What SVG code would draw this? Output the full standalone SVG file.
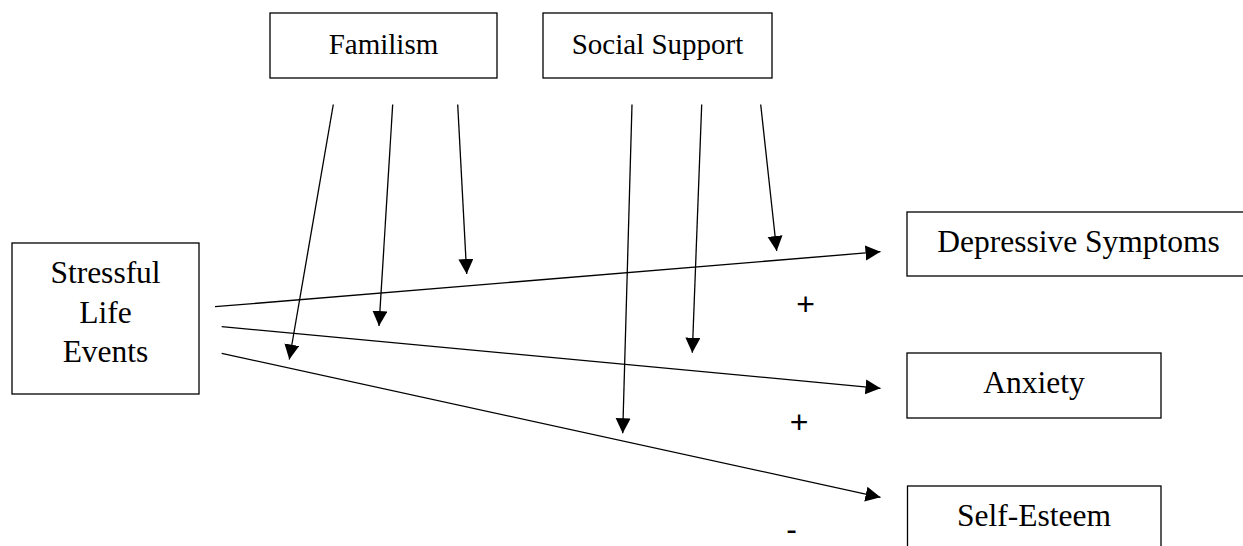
<svg xmlns="http://www.w3.org/2000/svg" width="1243" height="546" viewBox="0 0 1243 546">
<defs>
<marker id="ah" markerUnits="userSpaceOnUse" markerWidth="16" markerHeight="16" refX="15" refY="7.5" orient="auto">
<path d="M0,0 L15,7.5 L0,15 Z" fill="#000"/>
</marker>
<style>
.box{fill:#fff;stroke:#000;stroke-width:1.3}
.c{stroke:#000;stroke-width:1.3;fill:none;marker-end:url(#ah)}
</style>
</defs>
<rect width="1243" height="546" fill="#fff"/>
<g id="familism">
<rect class="box" x="270" y="13" width="227" height="65"/>
<text x="383.5" y="54" font-family="Liberation Serif, Times New Roman, DejaVu Serif, serif" font-size="29" text-anchor="middle" fill="#000">Familism</text>
</g>
<g id="social-support">
<rect class="box" x="543" y="13" width="229" height="65"/>
<text x="657.5" y="54" font-family="Liberation Serif, Times New Roman, DejaVu Serif, serif" font-size="29" text-anchor="middle" fill="#000">Social Support</text>
</g>
<g id="stressful-life-events">
<rect class="box" x="12" y="243" width="187" height="151"/>
<text x="105.5" y="283" font-family="Liberation Serif, Times New Roman, DejaVu Serif, serif" font-size="31.5" text-anchor="middle" fill="#000">Stressful</text>
<text x="105.5" y="322.5" font-family="Liberation Serif, Times New Roman, DejaVu Serif, serif" font-size="31.5" text-anchor="middle" fill="#000">Life</text>
<text x="105.5" y="361.5" font-family="Liberation Serif, Times New Roman, DejaVu Serif, serif" font-size="31.5" text-anchor="middle" fill="#000">Events</text>
</g>
<g id="depressive-symptoms">
<rect class="box" x="907" y="212" width="345" height="64"/>
<text x="1078.5" y="251.5" font-family="Liberation Serif, Times New Roman, DejaVu Serif, serif" font-size="31.5" text-anchor="middle" fill="#000">Depressive Symptoms</text>
</g>
<g id="anxiety">
<rect class="box" x="907" y="353" width="254" height="65"/>
<text x="1034" y="392.5" font-family="Liberation Serif, Times New Roman, DejaVu Serif, serif" font-size="31.5" text-anchor="middle" fill="#000">Anxiety</text>
</g>
<g id="self-esteem">
<rect class="box" x="907.5" y="486" width="253.5" height="70"/>
<text x="1034" y="526" font-family="Liberation Serif, Times New Roman, DejaVu Serif, serif" font-size="31.5" text-anchor="middle" fill="#000">Self-Esteem</text>
</g>
<g id="connectors">
<line class="c" x1="215" y1="306.7" x2="880.5" y2="251.7"/>
<line class="c" x1="221.7" y1="326.7" x2="880.5" y2="388.3"/>
<line class="c" x1="221.7" y1="353.3" x2="880.5" y2="497.3"/>
<line class="c" x1="333.3" y1="104.5" x2="289.3" y2="359.5"/>
<line class="c" x1="392.7" y1="104.5" x2="379" y2="326"/>
<line class="c" x1="457.7" y1="104.5" x2="466.7" y2="274"/>
<line class="c" x1="632" y1="104.5" x2="622.7" y2="433.3"/>
<line class="c" x1="701.7" y1="104.5" x2="692.3" y2="352.7"/>
<line class="c" x1="760.7" y1="104.5" x2="776.7" y2="251"/>
</g>
<g id="signs">
<text x="805.7" y="314.5" font-family="Liberation Sans, Arial, DejaVu Sans, sans-serif" font-size="32" text-anchor="middle" fill="#000">+</text>
<text x="799" y="433" font-family="Liberation Sans, Arial, DejaVu Sans, sans-serif" font-size="32" text-anchor="middle" fill="#000">+</text>
<text x="791.7" y="540" font-family="Liberation Sans, Arial, DejaVu Sans, sans-serif" font-size="32" text-anchor="middle" fill="#000">-</text>
</g>
</svg>
